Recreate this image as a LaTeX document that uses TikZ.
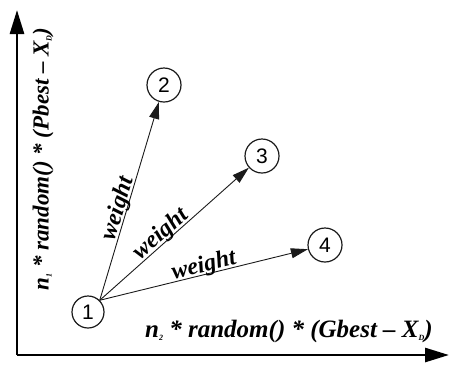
\documentclass[tikz,border=0pt]{standalone}
\usepackage{fontspec}
\setmainfont{Liberation Serif}
\newfontfamily\digitfont{Liberation Sans}
\usetikzlibrary{arrows.meta}
\definecolor{inkdark}{HTML}{1A1A1A}
\newcommand{\wt}{\bfseries\itshape\fontsize{24}{28}\selectfont}
\newcommand{\axf}{\bfseries\itshape\fontsize{25}{30}\selectfont}
\newcommand{\lo}[1]{\raisebox{-3pt}{\fontsize{8}{8}\selectfont #1}}

\begin{document}
\begin{tikzpicture}[x=1pt, y=-1pt,
  particle/.style={circle, draw=inkdark, line width=1.2pt, minimum size=34pt, inner sep=0pt,
                   font=\digitfont\fontsize{21}{24}\selectfont},
  vec/.style={draw=inkdark, line width=0.9pt, -{Triangle[length=17pt, width=10pt]}},
  axisline/.style={draw=black, line width=2.7pt, -{Triangle[length=24pt, width=14pt]}},
  wlbl/.style={font=\wt, sloped, above=-3pt, inner sep=0pt},
  alab/.style={font=\axf, inner sep=0pt}]
\useasboundingbox (0,0) rectangle (449,365);

% axes
\coordinate (o) at (17,355);
\coordinate (ytop) at (17,10);
\coordinate (xend) at (449,355);
\draw[axisline] (o) -- (ytop);
\draw[axisline] (o) -- (xend);
\node[alab, rotate=90, font=\bfseries\itshape\fontsize{23}{28}\selectfont] (ylab) at (43,159)
     {n\lo{1} * random() * (Pbest -- X\lo{D})};
\node[alab] (xlab) at (289,331) {n\lo{2} * random() * (Gbest -- X\lo{D})};

% particles
\node[particle, minimum size=32pt] (n1) at (88,312) {1};
\node[particle] (n2) at (164,85) {2};
\node[particle] (n3) at (262,156) {3};
\node[particle] (n4) at (325,245) {4};

% moves
\draw[vec] (n1.45) -- (n2) node[wlbl, pos=0.45] {weight};
\draw[vec] (n1.45) -- (n3) node[wlbl, pos=0.45] {weight};
\draw[vec] (n1.45) -- (n4) node[wlbl, pos=0.51] {weight};
\end{tikzpicture}
\end{document}
